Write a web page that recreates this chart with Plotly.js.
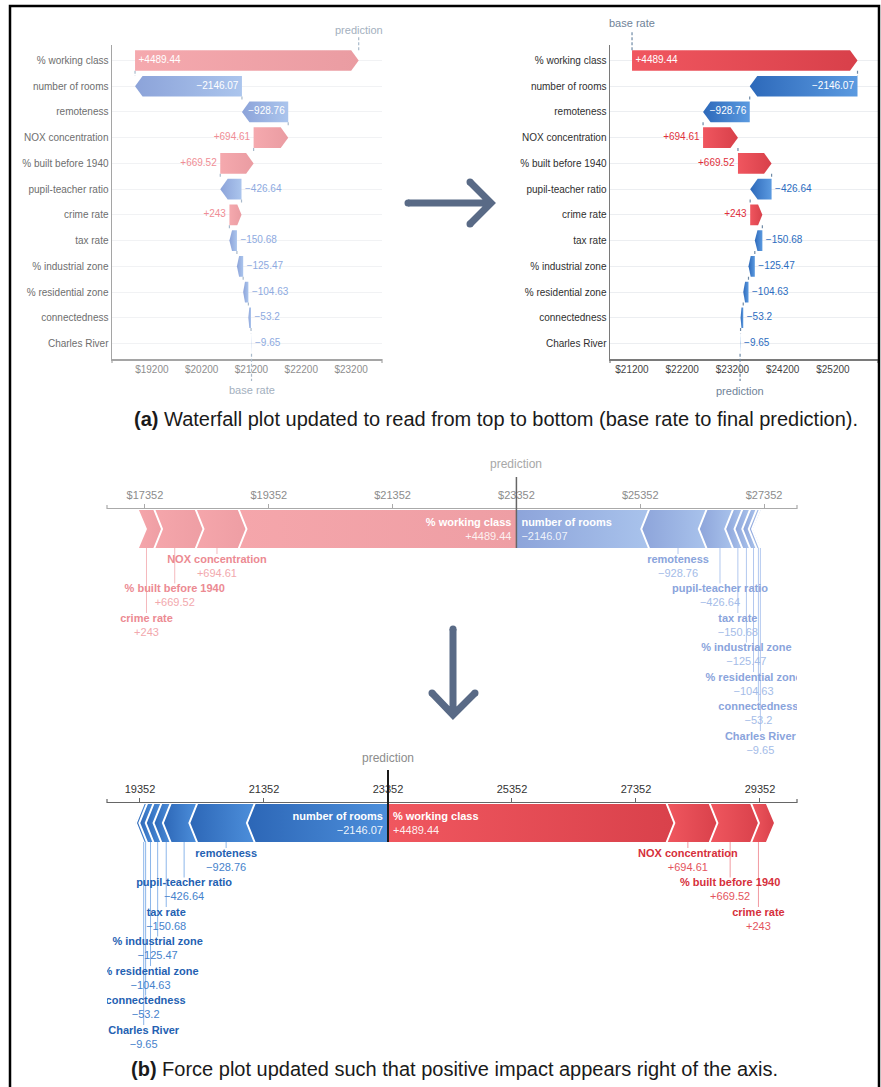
<!DOCTYPE html>
<html><head><meta charset="utf-8">
<script src="https://cdn.plot.ly/plotly-3.0.1.min.js"></script>
<style>html,body{margin:0;padding:0;background:#fff;}#chart{width:881px;height:1087px;}</style>
</head><body><div id="chart"></div>
<script>
// ---------------- data ----------------
const features = ["% working class","number of rooms","remoteness","NOX concentration","% built before 1940","pupil-teacher ratio","crime rate","tax rate","% industrial zone","% residential zone","connectedness","Charles River"];
const impacts = [4489.44,-2146.07,-928.76,694.61,669.52,-426.64,243,-150.68,-125.47,-104.63,-53.2,-9.65];
const baseRate = 21200.53;
const waterfallTicksLeft = [19200,20200,21200,22200,23200];
const waterfallTicksRight = [21200,22200,23200,24200,25200];
const forceTicksTop = [17352,19352,21352,23352,25352,27352];
const forceTicksBottom = [19352,21352,23352,25352,27352,29352];
const captionA = "<b>(a)</b> Waterfall plot updated to read from top to bottom (base rate to final prediction).";
const captionB = "<b>(b)</b> Force plot updated such that positive impact appears right of the axis.";

// ---------------- helpers ----------------
const W = 881, H = 1087;
const px = x => x / W;
const py = y => 1 - y / H;
const FONT = "Liberation Sans, Arial, Helvetica, sans-serif";
const n = features.length;
const rows = features.map((_, i) => i);
const prediction = baseRate + impacts.reduce((a, b) => a + b, 0);
const fmt = v => (v > 0 ? "+" : "\u2212") + Math.abs(v);
function axToPaper(ax, v) { const d = ax.domain, r = ax.range; return d[0] + (v - r[0]) / (r[1] - r[0]) * (d[1] - d[0]); }
function unitsPerPx(ax) { return (ax.range[1] - ax.range[0]) / ((ax.domain[1] - ax.domain[0]) * W); }

const faded = {red:["#f5a9ae","#ea9ca2"], blue:["#8ca3d9","#abc5ed"], redText:"#f08d95", blueText:"#8eaadf",
  label:"#6e6e6e", tick:"#8e8e8e", axis:"#a5a5a5", dash:"#a9bacb", note:"#a3b0be", grid:"#f1f2f4"};
const vivid = {red:["#f0565f","#d8404a"], blue:["#2d69ba","#5b9ae0"], redText:"#e0303c", blueText:"#2b6cc0",
  label:"#2f2f2f", tick:"#444444", axis:"#7a7a7a", dash:"#6f8aa6", note:"#6f8398", grid:"#eceef1"};

const traces = [], shapes = [], annotations = [];

function poly(xs, ys, xa, ya, c0, c1) {
  traces.push({type:"scatter", mode:"lines", x:xs.concat([xs[0]]), y:ys.concat([ys[0]]), xaxis:xa, yaxis:ya,
    fill:"toself", fillcolor:c0, fillgradient:{type:"horizontal", colorscale:[[0,c0],[1,c1]]},
    line:{width:0, color:c0}, hoverinfo:"skip", showlegend:false});
}
function textTrace(xs, ys, txt, xa, ya, pos, size, color, clip) {
  traces.push({type:"scatter", mode:"text", x:xs, y:ys, text:txt, xaxis:xa, yaxis:ya, textposition:pos,
    textfont:{family:FONT, size:size, color:color}, cliponaxis:clip, hoverinfo:"skip", showlegend:false});
}

// ---------------- axes ----------------
const wfY = [py(359), py(45)];
const layout = {
  width:W, height:H, margin:{l:0,r:0,t:0,b:0}, paper_bgcolor:"#ffffff", plot_bgcolor:"rgba(0,0,0,0)",
  font:{family:FONT, size:10, color:"#333"}, showlegend:false,
  xaxis:{domain:[px(112),px(382)], range:[18400,23820], anchor:"y", showgrid:false, zeroline:false, showline:true,
    linecolor:faded.axis, linewidth:1.5, ticks:"", tickvals:waterfallTicksLeft, ticktext:waterfallTicksLeft.map(v=>"$"+v),
    tickfont:{size:10, color:faded.tick}},
  yaxis:{domain:wfY, range:[11.6,-0.6], anchor:"x", tickvals:rows, ticktext:features, showgrid:true, gridcolor:faded.grid,
    zeroline:false, showline:true, linecolor:faded.axis, linewidth:1.5, ticks:"", ticklabelstandoff:0, tickfont:{size:10, color:faded.label}},
  xaxis2:{domain:[px(610),px(878)], range:[20762,26098], anchor:"y2", showgrid:false, zeroline:false, showline:true,
    linecolor:vivid.axis, linewidth:1.5, ticks:"", tickvals:waterfallTicksRight, ticktext:waterfallTicksRight.map(v=>"$"+v),
    tickfont:{size:10, color:vivid.tick}},
  yaxis2:{domain:wfY, range:[11.6,-0.6], anchor:"x2", tickvals:rows, ticktext:features, showgrid:true, gridcolor:vivid.grid,
    zeroline:false, showline:true, linecolor:vivid.axis, linewidth:1.5, ticks:"", ticklabelstandoff:0, tickfont:{size:10, color:vivid.label}},
  xaxis3:{domain:[px(107),px(797)], range:[16739,27884], anchor:"y3", side:"top", showgrid:false, zeroline:false, showline:true,
    linecolor:"#aaaaaa", linewidth:1.2, ticks:"outside", ticklen:4, tickcolor:"#aaaaaa", tickvals:forceTicksTop,
    ticktext:forceTicksTop.map(v=>"$"+v), tickfont:{size:11, color:"#8c8c8c"}},
  yaxis3:{domain:[py(760),py(509)], range:[251,0], anchor:"x3", visible:false},
  xaxis4:{domain:[px(107),px(797)], range:[18820,29949], anchor:"y4", side:"top", showgrid:false, zeroline:false, showline:true,
    linecolor:"#666666", linewidth:1.2, ticks:"outside", ticklen:4, tickcolor:"#666666", tickvals:forceTicksBottom,
    ticktext:forceTicksBottom.map(v=>String(v)), tickfont:{size:11, color:"#333333"}},
  yaxis4:{domain:[py(1050),py(803)], range:[247,0], anchor:"x4", visible:false},
  shapes:shapes, annotations:annotations
};

// ---------------- waterfalls ----------------
function segments(order) {
  const seg = new Array(n); let cum = baseRate;
  order.forEach(i => { seg[i] = {s:cum, e:cum + impacts[i]}; cum += impacts[i]; });
  return seg;
}
function drawWaterfall(xa, ya, ax, yax, seg, st, joinVal, topNote, botNote) {
  const upp = unitsPerPx(ax), tipU = 7.5 * upp, pad = 3.5 * upp;
  seg.forEach((sg, i) => {
    const t = i - 0.4, b = i + 0.4, m = i, tip = Math.min(tipU, 0.35 * Math.abs(sg.e - sg.s));
    if (impacts[i] > 0) poly([sg.s, sg.e - tip, sg.e, sg.e - tip, sg.s], [t,t,m,b,b], xa, ya, st.red[0], st.red[1]);
    else poly([sg.e, sg.e + tip, sg.s, sg.s, sg.e + tip], [m,t,t,b,b], xa, ya, st.blue[0], st.blue[1]);
  });
  // connectors
  const cx = [], cy = [];
  for (let i = 0; i < n - 1; i++) { const v = joinVal(i); cx.push(v, v, null); cy.push(i + 0.4, i + 0.6, null); }
  traces.push({type:"scatter", mode:"lines", x:cx, y:cy, xaxis:xa, yaxis:ya, line:{color:st.dash, width:1.2, dash:"3px,2px"},
    hoverinfo:"skip", showlegend:false});
  // value labels
  const g = {ip:[[],[],[]], in:[[],[],[]], op:[[],[],[]], on:[[],[],[]]};
  seg.forEach((sg, i) => {
    const inside = Math.abs(impacts[i]) > 800, pos = impacts[i] > 0;
    const key = inside ? (pos ? "ip" : "in") : (pos ? "op" : "on");
    const shift = (key === "ip" || key === "on") ? pad : -pad;
    g[key][0].push(sg.s + shift); g[key][1].push(i); g[key][2].push(fmt(impacts[i]));
  });
  textTrace(g.ip[0], g.ip[1], g.ip[2], xa, ya, "middle right", 10, "#ffffff", false);
  textTrace(g.in[0], g.in[1], g.in[2], xa, ya, "middle left", 10, "#ffffff", false);
  textTrace(g.op[0], g.op[1], g.op[2], xa, ya, "middle left", 10, st.redText, false);
  textTrace(g.on[0], g.on[1], g.on[2], xa, ya, "middle right", 10, st.blueText, false);
  // base / prediction notes
  [[topNote, -0.4], [botNote, 11.4]].forEach(([nt, rowEdge]) => {
    shapes.push({type:"line", xref:xa, yref:"paper", x0:nt.x, x1:nt.x, y0:axToPaper(yax, rowEdge), y1:py(nt.lineEnd),
      line:{color:st.dash, width:1.2, dash:"3px,2px"}});
    annotations.push({xref:xa, yref:"paper", x:nt.x, y:py(nt.y), text:nt.text, showarrow:false,
      font:{family:FONT, size:11, color:st.note}, xanchor:"center", yanchor:"middle"});
  });
  // axis end ticks
  [ax.domain[0], ax.domain[1]].forEach(d => shapes.push({type:"line", xref:"paper", yref:"paper", x0:d, x1:d,
    y0:yax.domain[0], y1:yax.domain[0] - 4 / H, line:{color:st.axis, width:1.2}}));
}
const segLeft = segments(rows.slice().reverse());
const segRight = segments(rows);
drawWaterfall("x", "y", layout.xaxis, layout.yaxis, segLeft, faded, i => segLeft[i].s,
  {x:segLeft[0].e, y:30, lineEnd:37, text:"prediction"}, {x:baseRate, y:390, lineEnd:381, text:"base rate"});
drawWaterfall("x2", "y2", layout.xaxis2, layout.yaxis2, segRight, vivid, i => segRight[i].e,
  {x:baseRate, y:23, lineEnd:31, text:"base rate"}, {x:segRight[n-1].e, y:391, lineEnd:381, text:"prediction"});

// ---------------- force plots ----------------
function drawForce(xa, ya, ax, yax, st, updated) {
  const upp = unitsPerPx(ax), d = 8 * upp, pad = 5 * upp, T = 1, B = 39, M = 20;
  const posIdx = rows.filter(i => impacts[i] > 0), negIdx = rows.filter(i => impacts[i] < 0);
  const runs = [
    {idx:posIdx, red:true, dirSign: updated ? 1 : -1},
    {idx:negIdx, red:false, dirSign: updated ? -1 : 1}
  ];
  runs.forEach(run => {
    let cur = prediction; const segs = [];
    run.idx.forEach(i => {
      const w = Math.abs(impacts[i]); const nxt = cur + run.dirSign * w;
      segs.push({i:i, x0:Math.min(cur, nxt), x1:Math.max(cur, nxt)});
      cur = nxt;
    });
    const cols = run.red ? st.red : st.blue;
    segs.forEach(s => {
      const atP0 = Math.abs(s.x0 - prediction) < 1e-6, atP1 = Math.abs(s.x1 - prediction) < 1e-6;
      if (run.red) {
        poly([s.x0, s.x1, s.x1 + (atP1 ? 0 : d), s.x1, s.x0, s.x0 + (atP0 ? 0 : d)], [T,T,M,B,B,M], xa, ya, cols[0], cols[1]);
      } else {
        poly([s.x0, s.x1, s.x1 - (atP1 ? 0 : d), s.x1, s.x0, s.x0 - (atP0 ? 0 : d)], [T,T,M,B,B,M], xa, ya, cols[0], cols[1]);
      }
    });
    // white separators
    const sx = [], sy = [];
    for (let k = 1; k < segs.length; k++) {
      const b = run.dirSign > 0 ? segs[k].x0 : segs[k].x1;
      const tip = run.red ? b + d : b - d;
      sx.push(b, tip, b, null); sy.push(T - 1, M, B + 1, null);
    }
    traces.push({type:"scatter", mode:"lines", x:sx, y:sy, xaxis:xa, yaxis:ya, line:{color:"#ffffff", width:2},
      hoverinfo:"skip", showlegend:false});
    // labels
    const lx = [], ly = [], nx = [], ny = [], nt = [], vy = [], vt = [];
    segs.slice(1).forEach((s, k) => {
      const c = (s.x0 + s.x1) / 2, yName = 51 + k * 29.5;
      lx.push(c, c, null); ly.push(B, yName - 6, null);
      nx.push(c); ny.push(yName); nt.push("<b>" + features[s.i] + "</b>"); vy.push(yName + 14); vt.push(fmt(impacts[s.i]));
    });
    traces.push({type:"scatter", mode:"lines", x:lx, y:ly, xaxis:xa, yaxis:ya,
      line:{color:run.red ? st.leadRed : st.leadBlue, width:1}, hoverinfo:"skip", showlegend:false});
    textTrace(nx, ny, nt, xa, ya, "middle center", 11, run.red ? st.nameRed : st.nameBlue, true);
    textTrace(nx, vy, vt, xa, ya, "middle center", 11, run.red ? st.valRed : st.valBlue, true);
    // inside label of adjacent segment
    const a = segs[0];
    const leftOfP = Math.abs(a.x1 - prediction) < 1e-6;
    const side = leftOfP ? "middle left" : "middle right";
    const xl = prediction + (leftOfP ? -pad : pad);
    textTrace([xl], [14], ["<b>" + features[a.i] + "</b>"], xa, ya, side, 11, "#ffffff", true);
    textTrace([xl], [28], [fmt(impacts[a.i])], xa, ya, side, 11, st.inVal, true);
  });
  // prediction marker
  shapes.push({type:"line", xref:xa, yref:"paper", x0:prediction, x1:prediction, y0:axToPaper(yax, B), y1:py(st.predLineTop),
    line:{color:st.predLine, width:st.predWidth}, layer:"above"});
  annotations.push({xref:xa, yref:"paper", x:prediction, y:py(st.predLabelY), text:"prediction", showarrow:false,
    font:{family:FONT, size:12, color:st.predText}, xanchor:"center", yanchor:"middle"});
  // axis end ticks
  [ax.domain[0], ax.domain[1]].forEach(dd => shapes.push({type:"line", xref:"paper", yref:"paper", x0:dd, x1:dd,
    y0:yax.domain[1], y1:yax.domain[1] + 4 / H, line:{color:ax.linecolor, width:1.2}}));
}
drawForce("x3", "y3", layout.xaxis3, layout.yaxis3, {
  red:["#f5a6ab","#ee9ea4"], blue:["#8da4da","#a9c3ec"], nameRed:"#ec8a92", valRed:"#f2a8ad",
  nameBlue:"#8aa4dc", valBlue:"#a4bce8", leadRed:"#f5b9bd", leadBlue:"#b2c8ef", inVal:"rgba(255,255,255,0.85)",
  predLine:"#666666", predWidth:1.5, predLineTop:477, predLabelY:464, predText:"#a8a8a8"}, false);
drawForce("x4", "y4", layout.xaxis4, layout.yaxis4, {
  red:["#f0575f","#d9414b"], blue:["#2c66b6","#4d8fdb"], nameRed:"#d6303b", valRed:"#e4545d",
  nameBlue:"#2461b2", valBlue:"#4682cc", leadRed:"#f29aa1", leadBlue:"#8cb6ea", inVal:"rgba(255,255,255,0.92)",
  predLine:"#1a1a1a", predWidth:2, predLineTop:770, predLabelY:758, predText:"#8c8c8c"}, true);

// ---------------- captions, arrows, frame ----------------
annotations.push({xref:"paper", yref:"paper", x:px(496), y:py(419), text:captionA, showarrow:false,
  font:{family:FONT, size:20, color:"#1a1a1a"}, xanchor:"center", yanchor:"middle"});
annotations.push({xref:"paper", yref:"paper", x:px(454), y:py(1069), text:captionB, showarrow:false,
  font:{family:FONT, size:20, color:"#1a1a1a"}, xanchor:"center", yanchor:"middle"});
const P = (x, y) => px(x) + "," + py(y);
const arrowCol = "#596a86";
shapes.push({type:"path", xref:"paper", yref:"paper", path:"M" + P(408,203) + "L" + P(490,203) + "M" + P(470,182) + "L" + P(491,203) + "L" + P(470,224),
  line:{color:arrowCol, width:7}});
shapes.push({type:"path", xref:"paper", yref:"paper", path:"M" + P(453,629) + "L" + P(453,714) + "M" + P(432,693) + "L" + P(453,715) + "L" + P(475,693),
  line:{color:arrowCol, width:7}});
[[408,203],[470,182],[470,224],[453,629],[432,693],[475,693]].forEach(([x,y]) => shapes.push({type:"circle", xref:"paper", yref:"paper",
  x0:px(x-3.5), x1:px(x+3.5), y0:py(y+3.5), y1:py(y-3.5), fillcolor:arrowCol, line:{width:0}}));
shapes.push({type:"rect", xref:"paper", yref:"paper", x0:px(10), x1:px(879), y0:py(1100), y1:py(6), line:{color:"#000000", width:2.5}});

Plotly.newPlot("chart", traces, layout, {displayModeBar:false, staticPlot:true});
</script></body></html>
